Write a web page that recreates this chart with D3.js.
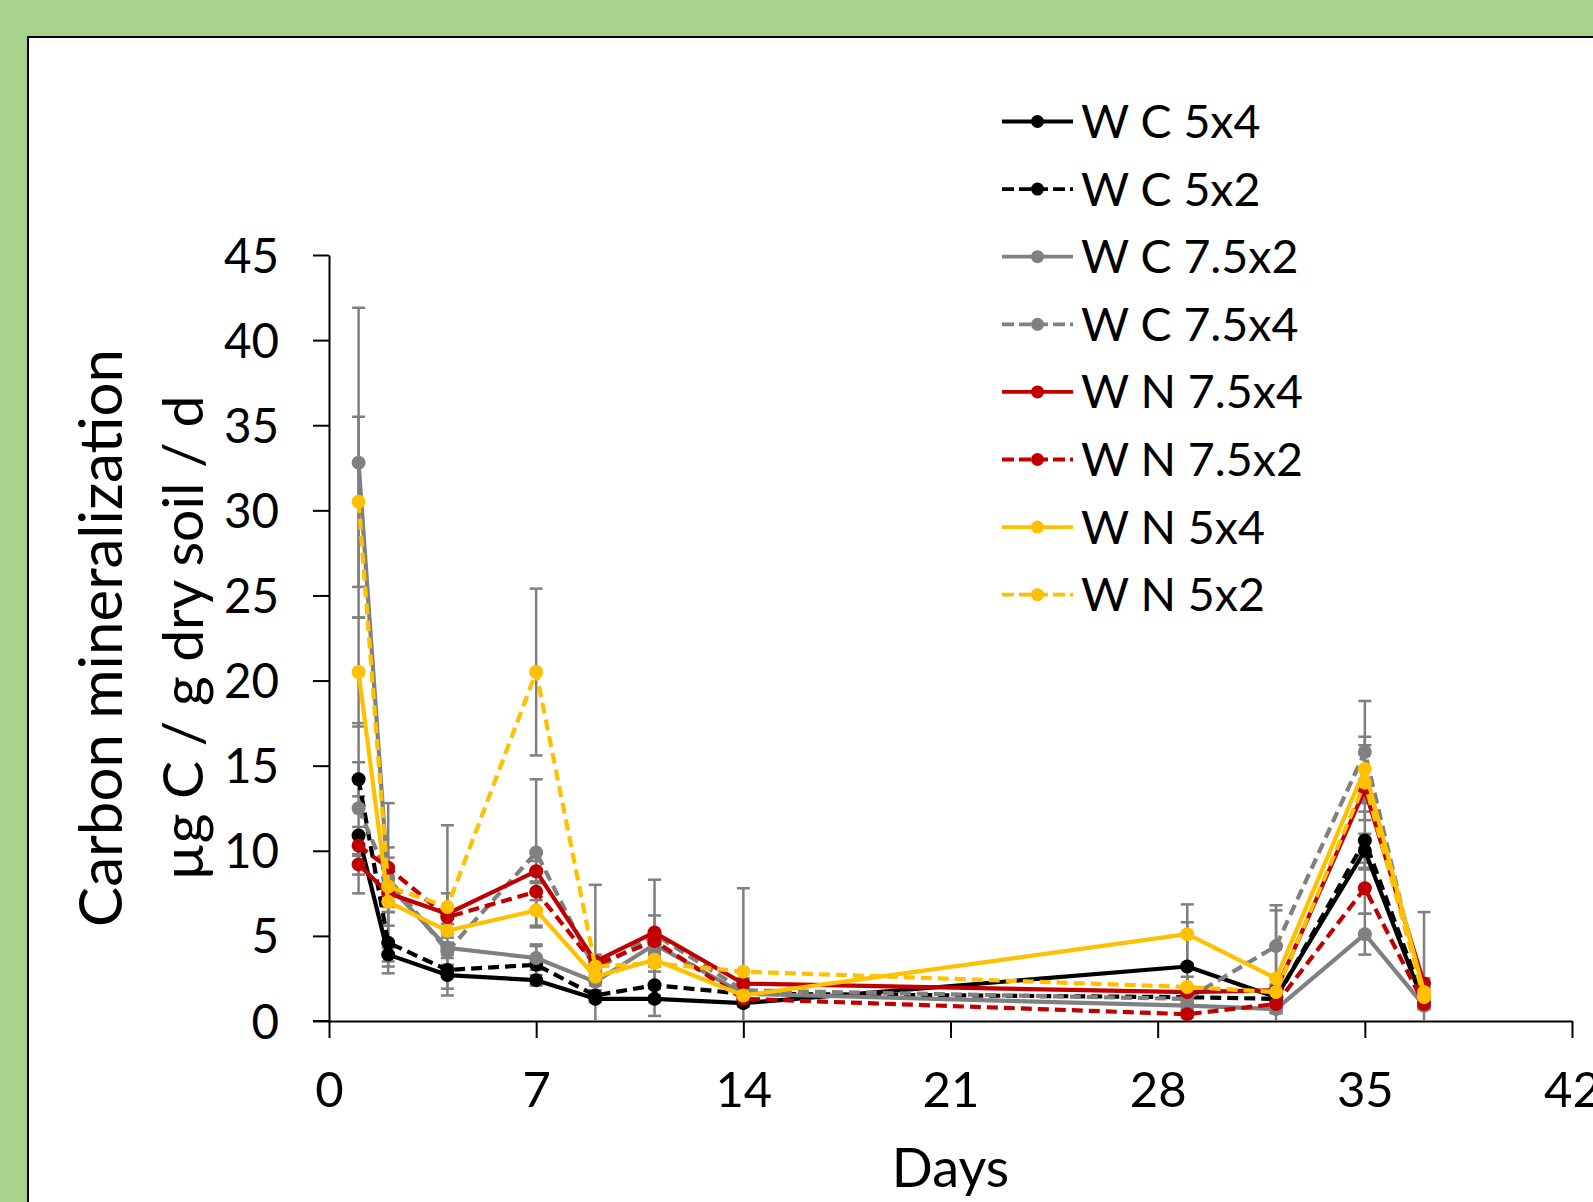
<!DOCTYPE html>
<html>
<head>
<meta charset="utf-8">
<script src="https://cdn.jsdelivr.net/npm/d3@7/dist/d3.min.js"></script>
<style>
  html, body { margin: 0; padding: 0; background: #a9d18e; }
  svg { display: block; }
  text { font-family: Lato, "Open Sans", sans-serif; fill: #000; }
</style>
</head>
<body>
<svg id="chart" width="1593" height="1202"></svg>
<script>
// ---------------- data ----------------
const days = [1, 2, 4, 7, 9, 11, 14, 29, 32, 35, 37];

const seriesNames = ["W C 5x4", "W C 5x2", "W C 7.5x2", "W C 7.5x4",
                     "W N 7.5x4", "W N 7.5x2", "W N 5x4", "W N 5x2"];
const seriesColors = ["#000000", "#000000", "#808080", "#808080",
                      "#c00000", "#c00000", "#ffc000", "#ffc000"];
const seriesDashed = [false, true, false, true, false, true, false, true];

const wc5x4   = [10.9, 3.9, 2.7, 2.4, 1.3, 1.3, 1.05, 3.2, 1.4, 10.0, 1.0];
const wc5x2   = [14.2, 4.6, 3.0, 3.3, 1.5, 2.1, 1.6, 1.4, 1.3, 10.6, 1.2];
const wc75x2  = [32.8, 8.0, 4.3, 3.7, 2.3, 4.5, 1.6, 0.9, 0.7, 5.1, 0.9];
const wc75x4  = [12.5, 8.4, 4.1, 9.9, 3.0, 5.1, 1.8, 1.3, 4.4, 15.8, 1.2];
const wn75x4  = [9.2, 7.5, 6.3, 8.8, 3.5, 5.2, 2.2, 1.7, 1.8, 13.6, 2.2];
const wn75x2  = [10.3, 9.0, 6.1, 7.6, 3.3, 4.7, 1.3, 0.4, 1.0, 7.8, 1.0];
const wn5x4   = [20.5, 7.0, 5.3, 6.5, 2.6, 3.6, 1.5, 5.1, 2.5, 14.8, 1.7];
const wn5x2   = [30.5, 7.9, 6.7, 20.5, 3.2, 3.4, 2.9, 2.0, 1.7, 14.0, 1.4];

// error bars (± values)
const wc5x4Err  = [0.5, 0.4, 1.2, 0.3, 0.2, 0.2, 0.2, 2.6, 0.3, 1.0, 0.3];
const wc5x2Err  = [1.0, 1.8, 0.3, 1.2, 0.3, 1.8, 0.3, 0.3, 0.85, 1.7, 0.3];
const wc75x2Err = [9.1, 4.8, 0.3, 0.7, 0.2, 0.4, 0.2, 0.2, 0.2, 1.2, 0.2];
const wc75x4Err = [5.0, 0.7, 0.4, 4.3, 5.0, 3.2, 0.3, 0.3, 2.4, 3.0, 5.2];
const wn75x4Err = [0.6, 0.8, 1.2, 0.6, 0.4, 1.0, 0.3, 0.3, 0.3, 0.6, 0.3];
const wn75x2Err = [0.6, 0.6, 0.4, 0.5, 0.3, 0.5, 0.2, 0.2, 0.2, 1.5, 0.2];
const wn5x4Err  = [3.2, 0.6, 0.4, 1.0, 0.3, 0.4, 0.3, 1.75, 4.0, 1.9, 0.3];
const wn5x2Err  = [5.0, 2.3, 4.8, 4.9, 0.4, 0.5, 4.9, 0.6, 0.3, 2.2, 0.3];

const seriesValues = [wc5x4, wc5x2, wc75x2, wc75x4, wn75x4, wn75x2, wn5x4, wn5x2];
const seriesErrors = [wc5x4Err, wc5x2Err, wc75x2Err, wc75x4Err, wn75x4Err, wn75x2Err, wn5x4Err, wn5x2Err];

const xTicks = [0, 7, 14, 21, 28, 35, 42];
const yTicks = [0, 5, 10, 15, 20, 25, 30, 35, 40, 45];

const xTitle = "Days";
const yTitle1 = "Carbon mineralization";
const yTitle2 = "µg C / g dry soil / d";

// ---------------- layout ----------------
const svg = d3.select("#chart");
const W = 1593, H = 1202;

svg.append("rect").attr("x", 0).attr("y", 0).attr("width", W).attr("height", H).attr("fill", "#a9d18e");
svg.append("rect").attr("x", 28).attr("y", 37).attr("width", 1640).attr("height", 1240)
   .attr("fill", "#ffffff").attr("stroke", "#000").attr("stroke-width", 2);

const x = d3.scaleLinear().domain([0, 42]).range([329, 1572]);
const y = d3.scaleLinear().domain([0, 45]).range([1021, 255]);

svg.append("clipPath").attr("id", "plotclip")
   .append("rect").attr("x", 300).attr("y", 245).attr("width", 1300).attr("height", 1021 - 245);

// axes
const yAxis = d3.axisLeft(y).tickValues(yTicks).tickSize(16).tickPadding(34).tickSizeOuter(0);
const gy = svg.append("g").attr("transform", `translate(${x(0)},0)`).call(yAxis);
gy.select(".domain").attr("stroke", "#000").attr("stroke-width", 2);
gy.selectAll(".tick line").attr("stroke", "#000").attr("stroke-width", 2);
gy.selectAll(".tick text").attr("font-size", 47.5).attr("dy", "0.36em")
  .style("font-family", "Lato, 'Open Sans', sans-serif").attr("fill", "#000");

const xAxis = d3.axisBottom(x).tickValues(xTicks).tickSize(17).tickSizeOuter(0);
const gx = svg.append("g").attr("transform", `translate(0,${y(0)})`).call(xAxis);
gx.select(".domain").attr("stroke", "#000").attr("stroke-width", 2);
gx.selectAll(".tick line").attr("stroke", "#000").attr("stroke-width", 2);
gx.selectAll(".tick text").attr("font-size", 49).attr("y", 86).attr("dy", 0)
  .style("font-family", "Lato, 'Open Sans', sans-serif").attr("fill", "#000");
svg.append("line").attr("x1", x(0) - 16).attr("x2", x(0)).attr("y1", y(0)).attr("y2", y(0))
   .attr("stroke", "#000").attr("stroke-width", 2);

// titles
svg.append("text").attr("x", (x(0) + x(42)) / 2).attr("y", 1187)
   .attr("text-anchor", "middle").attr("font-size", 54).text(xTitle);
svg.append("text").attr("transform", `translate(122,${(y(0) + y(45)) / 2}) rotate(-90)`)
   .attr("text-anchor", "middle").attr("font-size", 60).text(yTitle1);
svg.append("text").attr("transform", `translate(203,${(y(0) + y(45)) / 2}) rotate(-90)`)
   .attr("text-anchor", "middle").attr("font-size", 57).text(yTitle2);

// error bars
const errG = svg.append("g").attr("clip-path", "url(#plotclip)");
const capHalf = 6.5;
seriesValues.forEach((vals, si) => {
  const errs = seriesErrors[si];
  vals.forEach((v, i) => {
    const e = errs[i];
    const cx = x(days[i]);
    const y1 = y(v + e), y2 = y(v - e);
    errG.append("line").attr("x1", cx).attr("x2", cx).attr("y1", y1).attr("y2", y2)
        .attr("stroke", "#7f7f7f").attr("stroke-width", 2.5);
    [y1, y2].forEach(yy => {
      errG.append("line").attr("x1", cx - capHalf).attr("x2", cx + capHalf).attr("y1", yy).attr("y2", yy)
          .attr("stroke", "#7f7f7f").attr("stroke-width", 2.5);
    });
  });
});

// lines and markers
const line = d3.line().x((d, i) => x(days[i])).y(d => y(d));
seriesValues.forEach((vals, si) => {
  const g = svg.append("g");
  g.append("path").datum(vals).attr("d", line).attr("fill", "none")
   .attr("stroke", seriesColors[si]).attr("stroke-width", 4.2)
   .attr("stroke-linejoin", "round")
   .attr("stroke-dasharray", seriesDashed[si] ? "11,6" : null);
  g.selectAll("circle").data(vals).enter().append("circle")
   .attr("cx", (d, i) => x(days[i])).attr("cy", d => y(d)).attr("r", 7)
   .attr("fill", seriesColors[si]);
});

// legend
const legX1 = 1002, legX2 = 1073, legTextX = 1081, legY0 = 121.5, legStep = 67.6;
seriesNames.forEach((name, si) => {
  const ly = legY0 + si * legStep;
  const g = svg.append("g");
  g.append("line").attr("x1", legX1).attr("x2", legX2).attr("y1", ly).attr("y2", ly)
   .attr("stroke", seriesColors[si]).attr("stroke-width", 3.8)
   .attr("stroke-dasharray", seriesDashed[si] ? "12,5" : null);
  g.append("circle").attr("cx", (legX1 + legX2) / 2).attr("cy", ly).attr("r", 6.5).attr("fill", seriesColors[si]);
  g.append("text").attr("x", legTextX).attr("y", ly + 16.5).attr("font-size", 46.5).text(name);
});
</script>
</body>
</html>
